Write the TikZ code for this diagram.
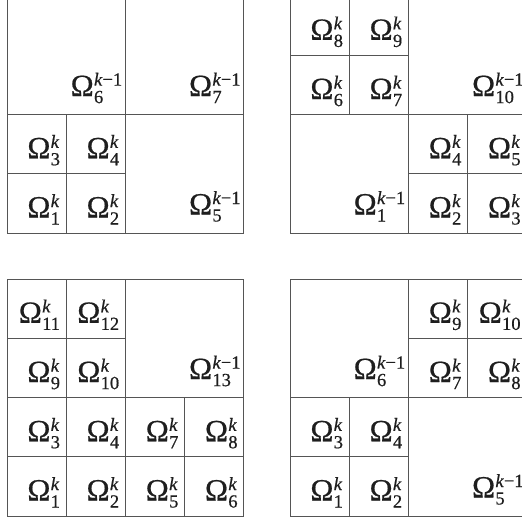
\documentclass[tikz,border=0pt]{standalone}
\usepackage{fontspec}
\setmainfont{Liberation Serif}
\newfontfamily\omfont[FakeBold=0.6]{Liberation Serif}
\newsavebox\OmSupBox
\newsavebox\OmSubBox
\newcommand{\Om}[2]{%
  \sbox\OmSupBox{\fontsize{18.5pt}{18.5pt}\omfont #2}%
  \sbox\OmSubBox{\fontsize{18.5pt}{18.5pt}\omfont #1}%
  {\fontsize{31pt}{31pt}\omfont Ω}\kern0.3pt
  \rlap{\raisebox{10.5pt}{\usebox\OmSupBox}}\raisebox{-7pt}{\usebox\OmSubBox}%
  \ifdim\wd\OmSupBox>\wd\OmSubBox\kern\dimexpr\wd\OmSupBox-\wd\OmSubBox\relax\fi}
\newcommand{\Kk}{\textit{k}}
\newcommand{\Km}{\textit{k}−1}
\definecolor{gridc}{HTML}{555555}
\definecolor{txt}{HTML}{1E1E1E}
\tikzset{
  gridline/.style={draw=gridc, line width=0.9pt},
  smalllab/.style={anchor=base east, inner sep=0pt, xshift=-6pt, yshift=15.5pt, text=txt},
  biglab/.style={anchor=base east, inner sep=0pt, xshift=-3pt, yshift=18.5pt, text=txt},
  panel/.style={x=59.2pt, y=-59.2pt}
}
\begin{document}
\begin{tikzpicture}[x=1pt, y=-1pt]
\useasboundingbox (0,0) rectangle (522,519);
\fill[white] (0,0) rectangle (522,519);
\clip (0,0) rectangle (522,519);
% Panel 1 (top left)
\begin{scope}[shift={(7,-3.8)}, panel]
  \draw[gridline] (0,0) rectangle (4,4);
  \draw[gridline] (2,0) -- (2,4);
  \draw[gridline] (0,2) -- (4,2);
  \draw[gridline] (1,2) -- (1,4);
  \draw[gridline] (0,3) -- (2,3);
  \node[biglab] (a6) at (2,2) {\Om{6}{\Km}};
  \node[biglab] (a7) at (4,2) {\Om{7}{\Km}};
  \node[smalllab] (a3) at (1,3) {\Om{3}{\Kk}};
  \node[smalllab] (a4) at (2,3) {\Om{4}{\Kk}};
  \node[smalllab] (a1) at (1,4) {\Om{1}{\Kk}};
  \node[smalllab] (a2) at (2,4) {\Om{2}{\Kk}};
  \node[biglab] (a5) at (4,4) {\Om{5}{\Km}};
\end{scope}
% Panel 2 (top right)
\begin{scope}[shift={(290,-3.8)}, panel]
  \draw[gridline] (0,0) rectangle (4,4);
  \draw[gridline] (2,0) -- (2,4);
  \draw[gridline] (0,2) -- (4,2);
  \draw[gridline] (1,0) -- (1,2);
  \draw[gridline] (0,1) -- (2,1);
  \draw[gridline] (3,2) -- (3,4);
  \draw[gridline] (2,3) -- (4,3);
  \node[smalllab] (b8) at (1,1) {\Om{8}{\Kk}};
  \node[smalllab] (b9) at (2,1) {\Om{9}{\Kk}};
  \node[smalllab] (b6) at (1,2) {\Om{6}{\Kk}};
  \node[smalllab] (b7) at (2,2) {\Om{7}{\Kk}};
  \node[biglab] (b10) at (4,2) {\Om{10}{\Km}};
  \node[biglab] (b1) at (2,4) {\Om{1}{\Km}};
  \node[smalllab] (b4) at (3,3) {\Om{4}{\Kk}};
  \node[smalllab] (b5) at (4,3) {\Om{5}{\Kk}};
  \node[smalllab] (b2) at (3,4) {\Om{2}{\Kk}};
  \node[smalllab] (b3) at (4,4) {\Om{3}{\Kk}};
\end{scope}
% Panel 3 (bottom left)
\begin{scope}[shift={(7,279.2)}, panel]
  \draw[gridline] (0,0) rectangle (4,4);
  \draw[gridline] (2,0) -- (2,4);
  \draw[gridline] (0,2) -- (4,2);
  \draw[gridline] (1,0) -- (1,4);
  \draw[gridline] (0,1) -- (2,1);
  \draw[gridline] (3,2) -- (3,4);
  \draw[gridline] (0,3) -- (4,3);
  \node[smalllab] (c11) at (1,1) {\Om{11}{\Kk}};
  \node[smalllab] (c12) at (2,1) {\Om{12}{\Kk}};
  \node[smalllab] (c9) at (1,2) {\Om{9}{\Kk}};
  \node[smalllab] (c10) at (2,2) {\Om{10}{\Kk}};
  \node[biglab] (c13) at (4,2) {\Om{13}{\Km}};
  \node[smalllab] (c3) at (1,3) {\Om{3}{\Kk}};
  \node[smalllab] (c4) at (2,3) {\Om{4}{\Kk}};
  \node[smalllab] (c7) at (3,3) {\Om{7}{\Kk}};
  \node[smalllab] (c8) at (4,3) {\Om{8}{\Kk}};
  \node[smalllab] (c1) at (1,4) {\Om{1}{\Kk}};
  \node[smalllab] (c2) at (2,4) {\Om{2}{\Kk}};
  \node[smalllab] (c5) at (3,4) {\Om{5}{\Kk}};
  \node[smalllab] (c6) at (4,4) {\Om{6}{\Kk}};
\end{scope}
% Panel 4 (bottom right)
\begin{scope}[shift={(290,279.2)}, panel]
  \draw[gridline] (0,0) rectangle (4,4);
  \draw[gridline] (2,0) -- (2,4);
  \draw[gridline] (0,2) -- (4,2);
  \draw[gridline] (3,0) -- (3,2);
  \draw[gridline] (2,1) -- (4,1);
  \draw[gridline] (1,2) -- (1,4);
  \draw[gridline] (0,3) -- (2,3);
  \node[biglab] (d6) at (2,2) {\Om{6}{\Km}};
  \node[smalllab] (d9) at (3,1) {\Om{9}{\Kk}};
  \node[smalllab] (d10) at (4,1) {\Om{10}{\Kk}};
  \node[smalllab] (d7) at (3,2) {\Om{7}{\Kk}};
  \node[smalllab] (d8) at (4,2) {\Om{8}{\Kk}};
  \node[smalllab] (d3) at (1,3) {\Om{3}{\Kk}};
  \node[smalllab] (d4) at (2,3) {\Om{4}{\Kk}};
  \node[smalllab] (d1) at (1,4) {\Om{1}{\Kk}};
  \node[smalllab] (d2) at (2,4) {\Om{2}{\Kk}};
  \node[biglab] (d5) at (4,4) {\Om{5}{\Km}};
\end{scope}
\end{tikzpicture}
\end{document}
